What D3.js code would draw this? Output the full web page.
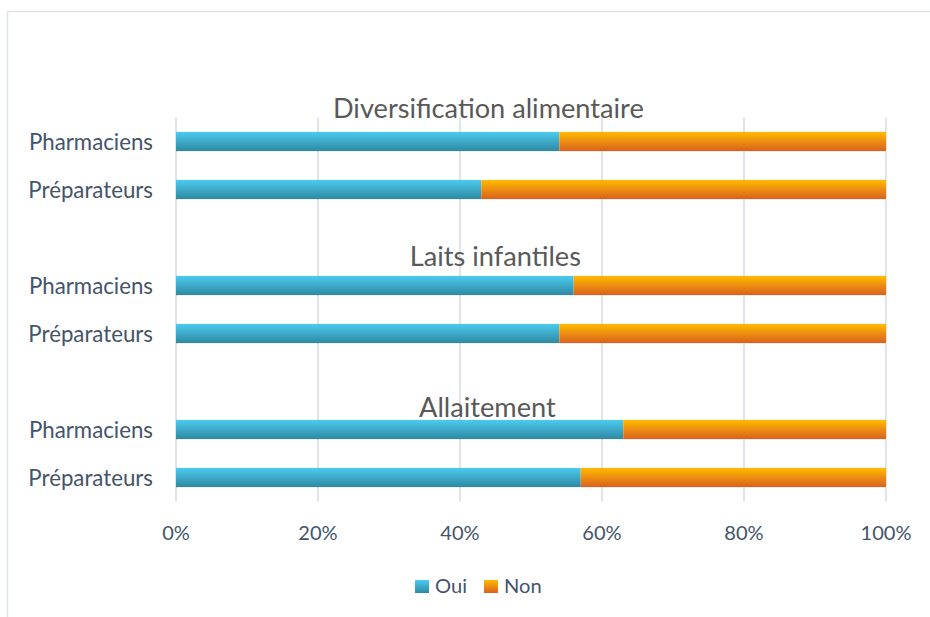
<!DOCTYPE html>
<html>
<head>
<meta charset="utf-8">
<script src="https://cdn.jsdelivr.net/npm/d3@7"></script>
<style>
  html, body { margin: 0; padding: 0; background: #fff; }
  svg { display: block; }
  text { font-family: Lato, "Open Sans", sans-serif; }
</style>
</head>
<body>
<svg id="chart" width="930" height="617"></svg>
<script>
// Survey topics, respondent groups, and share of "Oui" answers (%)
const topics = ["Diversification alimentaire", "Laits infantiles", "Allaitement"];
const roles = ["Pharmaciens", "Préparateurs"];
const ouiDiversification = [54, 43];
const ouiLaits = [56, 54];
const ouiAllaitement = [63, 57];
const seriesNames = ["Oui", "Non"];
const tickValues = [0, 20, 40, 60, 80, 100];

const ouiByTopic = [ouiDiversification, ouiLaits, ouiAllaitement];

// Rows: each topic's two bars, with an empty slot between topics for its heading
const rows = [];
topics.forEach((t, ti) => {
  if (ti > 0) rows.push({ key: "gap" + ti, blank: true, topic: t });
  roles.forEach((r, ri) => {
    const oui = ouiByTopic[ti][ri];
    rows.push({ key: t + "|" + r, role: r, topic: t, Oui: oui, Non: 100 - oui });
  });
});
const barRows = rows.filter(d => !d.blank);

const svg = d3.select("#chart");
const W = 930, H = 617;
const margin = { left: 176, right: 44, top: 117.5, bottom: 115.5 };

// Chart frame
svg.append("rect")
  .attr("x", 7.5).attr("y", 11.5)
  .attr("width", W + 20).attr("height", H + 20)
  .attr("fill", "#fff").attr("stroke", "#dfe3ea").attr("stroke-width", 1.5);

const x = d3.scaleLinear().domain([0, 100]).range([margin.left, W - margin.right]);
const y = d3.scaleBand().domain(rows.map(d => d.key))
  .range([margin.top, H - margin.bottom]).paddingInner(0.6).paddingOuter(0.3);

// Gradients
const defs = svg.append("defs");
const gradStops = {
  Oui: ["#4bcbef", "#2f88a2"],
  Non: ["#ffbb00", "#da601f"]
};
seriesNames.forEach(s => {
  const g = defs.append("linearGradient").attr("id", "grad-" + s)
    .attr("x1", 0).attr("y1", 0).attr("x2", 0).attr("y2", 1);
  g.append("stop").attr("offset", "0%").attr("stop-color", gradStops[s][0]);
  g.append("stop").attr("offset", "100%").attr("stop-color", gradStops[s][1]);
});

// Vertical gridlines
svg.append("g").selectAll("line").data(tickValues).join("line")
  .attr("x1", d => x(d)).attr("x2", d => x(d))
  .attr("y1", margin.top).attr("y2", H - margin.bottom)
  .attr("stroke", "#dde1e8").attr("stroke-width", 1.75);

// Stacked bars
const stack = d3.stack().keys(seriesNames);
const stacked = stack(barRows);
svg.append("g").selectAll("g").data(stacked).join("g")
  .attr("fill", d => "url(#grad-" + d.key + ")")
  .selectAll("rect").data(d => d).join("rect")
  .attr("x", d => x(d[0]))
  .attr("width", d => x(d[1]) - x(d[0]))
  .attr("y", d => y(d.data.key))
  .attr("height", y.bandwidth());

// Fit a font size so a sample string reaches a given width
function fitSize(sample, width, weight) {
  const t = svg.append("text").attr("font-size", 20).attr("font-weight", weight || 400).text(sample);
  const w = t.node().getComputedTextLength();
  t.remove();
  return 20 * width / w;
}
const labelSize = fitSize("Pharmaciens", 124);
const tickSize = fitSize("100%", 51);
const titleSize = fitSize("Diversification alimentaire", 311);
const legendSize = fitSize("Oui", 32);

// Category labels
svg.append("g").selectAll("text").data(barRows).join("text")
  .attr("x", margin.left - 23)
  .attr("y", d => y(d.key) + y.bandwidth() / 2)
  .attr("dy", "0.36em")
  .attr("text-anchor", "end")
  .attr("font-size", labelSize)
  .attr("fill", "#44546a")
  .text(d => d.role);

// X axis tick labels
svg.append("g").selectAll("text").data(tickValues).join("text")
  .attr("x", d => x(d))
  .attr("y", H - margin.bottom + 38)
  .attr("text-anchor", "middle")
  .attr("font-size", tickSize)
  .attr("fill", "#44546a")
  .text(d => d + "%");

// Topic headings above each pair of bars
const titleDy = [14, 9.5, 3];
svg.append("g").selectAll("text").data(topics).join("text")
  .attr("x", (d, i) => x(44) + [0, 7, -1][i])
  .attr("y", (d, i) => y(d + "|" + roles[0]) - titleDy[i])
  .attr("text-anchor", "middle")
  .attr("font-size", titleSize)
  .attr("fill", "#595959")
  .text(d => d);

// Legend
const legend = svg.append("g").attr("transform", "translate(415,580)");
const legendX = [0, 69];
seriesNames.forEach((s, i) => {
  const g = legend.append("g").attr("transform", `translate(${legendX[i]},0)`);
  g.append("rect").attr("width", 14).attr("height", 13).attr("fill", "url(#grad-" + s + ")");
  g.append("text").attr("x", 20).attr("y", 13).attr("font-size", legendSize)
    .attr("fill", "#44546a").text(s);
});
</script>
</body>
</html>
